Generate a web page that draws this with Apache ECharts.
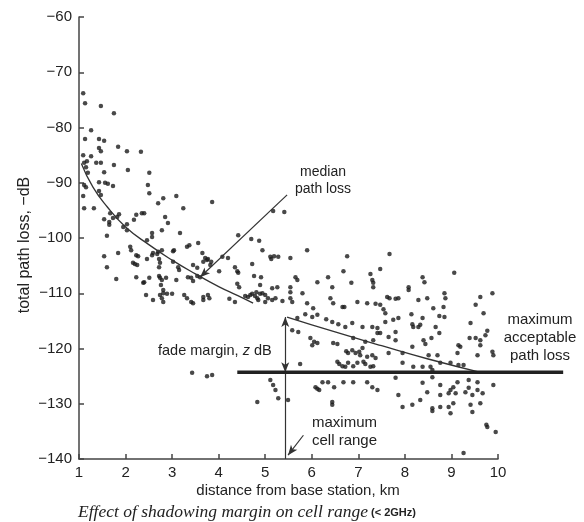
<!DOCTYPE html>
<html>
<head>
<meta charset="utf-8">
<title>Effect of shadowing margin on cell range</title>
<script src="https://cdn.jsdelivr.net/npm/echarts@6/dist/echarts.min.js"></script>
<style>
    html, body { margin: 0; padding: 0; background: #fff; }
    #container { width: 584px; height: 522px; }
</style>
</head>
<body>
<div id="container"></div>
<script>
// axis ranges / ticks
var distTicks = [1, 2, 3, 4, 5, 6, 7, 8, 9, 10];
var lossTicks = [-140, -130, -120, -110, -100, -90, -80, -70, -60];

// measured path loss samples [km, dB]
var measuredPts = [
    [1.09,-73.8],[1.13,-75.6],[1.47,-76.1],[1.75,-77.4],[1.26,-80.5],[1.13,-82.1],[1.43,-82.1],[1.54,-82.4],
    [1.84,-83.5],[1.43,-83.7],[1.47,-84.3],[2.03,-84.3],[2.33,-84.4],[1.09,-85.0],[1.26,-85.2],[1.17,-86.1],
    [1.11,-86.4],[1.37,-86.4],[1.47,-86.4],[1.75,-86.8],[1.15,-87.2],[2.05,-87.7],[2.51,-88.2],[1.54,-88.1],
    [1.19,-88.2],[1.11,-90.4],[1.15,-90.8],[1.09,-92.4],[1.43,-89.9],[1.56,-90.0],[1.62,-90.2],[1.73,-90.6],
    [2.48,-90.4],[2.51,-91.9],[2.81,-92.8],[2.70,-93.7],[3.09,-92.4],[1.43,-91.5],[1.47,-92.2],[1.11,-94.6],
    [1.32,-94.6],[1.67,-95.5],[1.54,-96.6],[1.65,-97.1],[1.73,-96.4],[1.82,-96.2],[1.86,-95.7],[1.65,-97.6],
    [1.95,-98.0],[2.03,-98.6],[2.03,-97.5],[2.18,-96.7],[2.23,-95.8],[2.35,-95.5],[2.40,-95.5],[2.85,-96.2],
    [2.91,-97.3],[3.24,-94.6],[2.78,-98.6],[2.57,-99.1],[2.57,-99.8],[3.17,-99.1],[1.60,-99.6],[2.46,-100.4],
    [3.32,-101.6],[3.37,-101.3],[3.56,-100.9],[2.10,-101.6],[2.12,-102.2],[2.70,-102.5],[2.68,-102.9],[2.59,-102.7],
    [2.57,-103.1],[2.78,-102.2],[3.02,-102.4],[3.04,-102.2],[1.84,-102.7],[2.23,-103.1],[2.27,-103.3],[1.54,-103.3],
    [1.60,-105.3],[2.16,-104.5],[2.20,-104.7],[2.25,-104.9],[2.46,-103.8],[2.72,-103.8],[2.74,-104.5],[2.72,-105.3],
    [3.02,-104.3],[3.13,-105.3],[3.15,-105.8],[3.54,-105.4],[1.80,-107.4],[2.23,-107.1],[2.38,-108.1],[2.40,-108.0],
    [2.51,-107.2],[2.72,-106.9],[2.74,-107.2],[2.78,-107.6],[2.76,-108.5],[2.87,-107.2],[2.81,-109.4],[3.09,-107.6],
    [3.34,-107.1],[3.41,-107.2],[3.45,-107.8],[3.54,-106.9],[2.44,-110.3],[2.59,-111.2],[2.74,-110.3],[2.81,-110.0],
    [2.89,-110.1],[3.00,-110.1],[2.78,-110.9],[2.81,-111.6],[3.26,-110.3],[3.32,-110.9],[3.41,-111.6],[3.45,-111.8],
    [3.86,-93.5],[5.17,-95.1],[5.41,-95.3],[4.42,-99.5],[4.70,-100.2],[4.87,-100.5],[5.90,-102.2],[4.94,-102.2],
    [5.11,-103.4],[5.13,-103.8],[5.19,-103.3],[5.28,-103.4],[3.65,-102.7],[3.71,-103.6],[3.75,-104.0],[3.67,-104.3],
    [3.77,-103.8],[3.84,-104.3],[3.82,-104.9],[4.08,-103.4],[4.20,-103.6],[5.54,-103.6],[6.76,-103.3],[3.45,-104.9],
    [4.72,-104.7],[4.35,-105.3],[4.40,-106.0],[4.42,-106.3],[4.01,-106.0],[6.68,-106.0],[7.26,-106.5],[3.60,-107.1],
    [4.76,-106.9],[4.91,-107.1],[4.89,-108.5],[5.65,-107.1],[5.69,-107.6],[6.35,-107.1],[6.12,-108.0],[6.85,-108.1],
    [7.30,-107.6],[7.32,-108.1],[7.32,-108.9],[4.40,-108.3],[4.44,-108.9],[4.81,-109.8],[5.15,-109.1],[5.26,-108.9],
    [5.54,-108.9],[5.54,-109.8],[5.80,-110.0],[6.44,-108.9],[3.67,-111.2],[3.77,-110.3],[3.80,-110.9],[3.67,-110.7],
    [4.23,-111.0],[4.35,-111.6],[4.57,-110.5],[4.63,-110.7],[4.68,-110.3],[4.72,-110.1],[4.78,-110.5],[4.83,-110.9],
    [4.89,-110.1],[4.94,-110.0],[5.00,-110.3],[5.06,-110.9],[5.15,-111.2],[5.22,-110.9],[5.37,-111.4],[5.00,-111.6],
    [4.85,-111.2],[5.54,-110.9],[5.58,-111.6],[5.90,-111.8],[6.03,-112.7],[6.12,-113.9],[6.01,-114.3],[6.40,-110.9],
    [6.46,-111.8],[6.66,-112.5],[6.70,-112.5],[6.98,-111.6],[7.19,-111.8],[7.37,-111.9],[5.69,-114.5],[5.86,-113.8],
    [6.31,-114.7],[6.44,-115.2],[6.57,-115.6],[6.72,-116.1],[6.87,-115.4],[7.09,-116.1],[7.30,-116.1],[7.41,-116.3],
    [5.58,-116.7],[5.71,-117.0],[5.97,-118.1],[6.05,-118.8],[6.12,-119.0],[6.01,-119.4],[6.46,-119.0],[6.55,-119.2],
    [6.89,-118.1],[7.15,-118.8],[7.32,-118.5],[7.41,-117.2],[7.09,-119.9],[6.74,-120.5],[6.78,-120.8],[6.87,-120.3],
    [6.94,-120.8],[7.02,-120.6],[7.04,-121.2],[7.19,-121.5],[7.30,-121.2],[7.37,-121.7],[6.55,-122.4],[6.59,-122.8],
    [6.66,-123.2],[6.72,-123.3],[6.78,-122.6],[6.89,-123.2],[6.98,-122.6],[7.11,-122.4],[7.15,-122.8],[7.26,-123.3],
    [7.32,-123.2],[5.75,-122.8],[3.43,-124.4],[3.75,-125.0],[3.86,-124.8],[5.11,-125.7],[5.17,-126.6],[5.22,-127.5],
    [4.83,-129.7],[5.28,-129.0],[5.49,-129.3],[6.08,-127.0],[6.12,-127.3],[6.16,-127.5],[6.23,-126.1],[6.35,-126.1],
    [6.48,-127.0],[6.68,-126.1],[6.89,-126.1],[7.19,-126.1],[7.30,-127.0],[7.41,-127.5],[6.44,-129.7],[6.44,-130.2],
    [7.67,-102.9],[7.47,-105.6],[9.06,-106.3],[8.38,-107.1],[8.42,-108.0],[8.08,-108.9],[8.08,-109.4],[9.88,-110.0],
    [9.62,-110.7],[7.62,-110.7],[7.67,-110.9],[7.80,-111.0],[7.86,-110.9],[8.29,-111.2],[8.48,-110.9],[8.85,-110.0],
    [8.87,-110.9],[7.47,-112.1],[7.54,-112.9],[7.58,-113.6],[8.61,-112.7],[8.83,-112.5],[9.52,-112.1],[8.14,-113.8],
    [8.38,-114.5],[8.74,-114.1],[8.85,-114.3],[9.69,-113.6],[7.58,-115.2],[7.75,-114.8],[7.86,-114.5],[8.16,-115.6],
    [8.18,-116.1],[8.29,-116.1],[8.33,-115.7],[8.66,-116.1],[8.74,-117.2],[9.41,-115.4],[9.77,-116.8],[9.73,-117.6],
    [7.47,-117.2],[7.65,-117.9],[7.80,-117.0],[7.80,-118.5],[9.39,-118.1],[9.52,-118.1],[9.62,-118.5],[8.40,-118.5],
    [8.44,-119.2],[8.57,-118.1],[8.16,-119.7],[9.15,-119.4],[9.19,-119.7],[9.62,-119.4],[7.65,-120.8],[7.95,-120.8],
    [8.51,-121.2],[8.70,-121.2],[9.13,-120.8],[9.56,-121.2],[9.88,-120.6],[9.90,-121.2],[7.95,-122.6],[8.18,-123.3],
    [8.38,-123.3],[8.55,-123.3],[8.76,-122.6],[8.98,-122.6],[9.15,-123.0],[9.26,-123.0],[8.59,-123.9],[7.80,-125.3],
    [8.59,-125.2],[8.38,-126.2],[8.76,-126.6],[9.13,-126.1],[9.37,-125.7],[9.56,-126.1],[9.90,-126.6],[9.04,-127.0],
    [8.98,-127.5],[9.37,-127.1],[9.56,-127.5],[7.86,-128.4],[8.48,-127.9],[8.76,-128.4],[8.94,-128.1],[9.09,-128.1],
    [9.30,-127.9],[9.45,-128.4],[9.67,-128.1],[7.95,-130.6],[8.16,-130.2],[8.33,-129.3],[8.59,-130.8],[8.59,-131.3],
    [8.76,-130.6],[8.94,-130.6],[9.04,-129.9],[9.41,-130.2],[9.45,-131.5],[9.62,-129.9],[8.98,-131.7],[9.75,-133.8],
    [9.77,-134.2],[9.95,-135.1],[9.26,-138.9]
];

// median path loss curve (gap where it is broken in the figure)
var medianKm = [1.05, 1.3, 1.6, 2.0, 2.5, 3.0, 3.5, 4.0, 4.4, 4.74, null, 5.47, 6.5, 7.5, 8.5, 9.62];
var medianDb = [-86.5, -90.8, -94.3, -98.0, -101.2, -104.0, -106.5, -108.8, -110.4, -111.8, null, -114.3, -117.0, -119.5, -121.9, -124.3];

// maximum acceptable path loss line (runs past the end of the axis)
var maxLossDb = -124.3;
var maxLossKm = [4.4, 11.4];

// fade margin / cell range
var cellRangeKm = 5.43;
var fadeTopDb = -114.3;

var page = {
    font: '"Liberation Sans", Arial, sans-serif',
    ink: '#222',

    init: function () {
        var chart = echarts.init(document.getElementById('container'));
        chart.setOption(this.buildOption());
        //the thick line goes past x=10, so draw it after the axes exist
        var p0 = chart.convertToPixel({ gridIndex: 0 }, [maxLossKm[0], maxLossDb]);
        var p1 = chart.convertToPixel({ gridIndex: 0 }, [maxLossKm[1], maxLossDb]);
        var g = this.buildTexts();
        g.push({
            type: 'line', silent: true, z: 5,
            shape: { x1: p0[0], y1: p0[1], x2: p1[0], y2: p1[1] },
            style: { stroke: '#222', lineWidth: 3.5 }
        });
        chart.setOption({ graphic: g });
    },

    minus: function (v) {
        return String(v).replace('-', '\u2212');
    },

    buildOption: function () {
        var that = this;
        var median = [];
        for (var i = 0; i < medianKm.length; i++) {
            median.push(medianKm[i] === null ? [null, null] : [medianKm[i], medianDb[i]]);
        }
        var axisStyle = { color: '#444', width: 1.5 };

        return {
            animation: false,
            backgroundColor: '#fff',
            grid: { left: 79, right: 86, top: 17, bottom: 63 },
            xAxis: {
                type: 'value',
                min: distTicks[0],
                max: distTicks[distTicks.length - 1],
                interval: 1,
                splitLine: { show: false },
                axisLine: { lineStyle: axisStyle },
                axisTick: { inside: true, length: 5, lineStyle: axisStyle },
                axisLabel: { color: that.ink, fontSize: 15, fontFamily: that.font, margin: 6 }
            },
            yAxis: {
                type: 'value',
                min: lossTicks[0],
                max: lossTicks[lossTicks.length - 1],
                interval: 10,
                splitLine: { show: false },
                axisLine: { lineStyle: axisStyle },
                axisTick: { inside: true, length: 5, lineStyle: axisStyle },
                axisLabel: {
                    color: that.ink, fontSize: 15, fontFamily: that.font, margin: 7,
                    formatter: function (v) { return that.minus(v); }
                }
            },
            series: [
                {
                    type: 'scatter',
                    data: measuredPts,
                    symbolSize: 4.5,
                    itemStyle: { color: '#1c1c1c' },
                    silent: true
                },
                {
                    type: 'line',
                    data: median,
                    smooth: true,
                    showSymbol: false,
                    connectNulls: false,
                    lineStyle: { color: '#333', width: 1.3 },
                    silent: true
                },
                {
                    // arrows
                    type: 'scatter',
                    data: [],
                    markLine: {
                        silent: true,
                        animation: false,
                        label: { show: false },
                        lineStyle: { color: '#333', width: 1.2, type: 'solid' },
                        symbolSize: [6, 10],
                        data: [
                            [{ coord: [cellRangeKm, fadeTopDb], symbol: 'arrow' },
                             { coord: [cellRangeKm, maxLossDb], symbol: 'arrow' }],
                            [{ coord: [cellRangeKm, maxLossDb], symbol: 'none' },
                             { coord: [cellRangeKm, lossTicks[0]], symbol: 'none' }],
                            [{ coord: [5.47, -92.2], symbol: 'none' },
                             { coord: [3.60, -107.1], symbol: 'arrow' }],
                            [{ coord: [5.82, -135.7], symbol: 'none' },
                             { coord: [5.49, -139.3], symbol: 'arrow' }]
                        ]
                    }
                }
            ]
        };
    },

    buildTexts: function () {
        var f = this.font, ink = this.ink;
        function txt(x, y, text, align, size, extra) {
            var o = {
                type: 'text', x: x, y: y, silent: true,
                style: {
                    text: text, fill: ink, font: (size || 14) + 'px ' + f,
                    textAlign: align || 'center', textVerticalAlign: 'middle',
                    lineHeight: (size || 14) + 3
                }
            };
            if (extra) {
                for (var k in extra) o.style[k] = extra[k];
            }
            return o;
        }
        return [
            {
                type: 'text', x: 25, y: 245, rotation: Math.PI / 2, silent: true,
                style: {
                    text: 'total path loss, \u2212dB', fill: ink, font: '16px ' + f,
                    textAlign: 'center', textVerticalAlign: 'middle'
                }
            },
            txt(298, 491, 'distance from base station, km', 'center', 15),
            txt(323, 181, 'median\npath loss', 'center', 14),
            txt(158, 351, '{a|fade margin, }{b|z}{a| dB}', 'left', 14, {
                rich: {
                    a: { font: '14.5px ' + f, fill: ink },
                    b: { font: 'italic 14.5px ' + f, fill: ink }
                }
            }),
            txt(540, 338, 'maximum\nacceptable\npath loss', 'center', 15),
            txt(312, 432, 'maximum\ncell range', 'left', 15),
            txt(78, 512, 'Effect of shadowing margin on cell range', 'left', 17.5,
                { font: 'italic 17.5px "Liberation Serif", "Times New Roman", serif' }),
            txt(371, 513, '(< 2GHz)', 'left', 11, { font: 'bold 11px ' + f })
        ];
    }
};

page.init();
</script>
</body>
</html>
